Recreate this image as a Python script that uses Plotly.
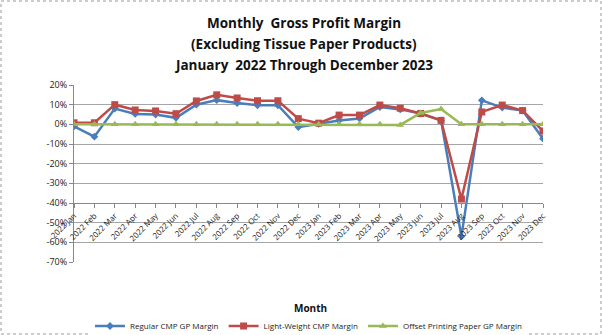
import plotly.graph_objects as go

months = ["2022 Jan", "2022 Feb", "2022 Mar", "2022 Apr", "2022 May", "2022 Jun",
          "2022 Jul", "2022 Aug", "2022 Sep", "2022 Oct", "2022 Nov", "2022 Dec",
          "2023 Jan", "2023 Feb", "2023 Mar", "2023 Apr", "2023 May", "2023 Jun",
          "2023 Jul", "2023 Aug", "2023 Sep", "2023 Oct", "2023 Nov", "2023 Dec"]

regular_cmp = [-1.0, -6.3, 8.0, 5.3, 5.0, 3.3, 10.0, 12.3, 10.8, 9.7, 9.7, -1.4,
               0.3, 2.0, 3.0, 8.8, 7.6, 5.5, 2.0, -57.0, 12.2, 8.5, 7.0, -7.3]
light_weight_cmp = [0.8, 0.8, 10.0, 7.3, 6.8, 5.4, 11.9, 15.0, 13.4, 12.0, 12.0, 2.9,
                    0.6, 4.7, 4.7, 9.8, 8.2, 5.5, 2.0, -38.0, 6.3, 9.8, 7.0, -3.4]
offset_printing = [0, 0, 0, 0, 0, 0, 0, 0, 0, 0, 0, 0,
                   0, 0, 0, 0, -0.3, 5.8, 7.8, 0, 0, 0, 0, 0]

y_ticks = [20, 10, 0, -10, -20, -30, -40, -50, -60, -70]
title_lines = ["Monthly  Gross Profit Margin",
               "(Excluding Tissue Paper Products)",
               "January  2022 Through December 2023"]

W, H = 602, 335
L, R = 74, 59
plot_top, plot_bottom = 85, 262
pw = W - L - R


def py(pix):
    """Pixel row from the top -> paper y fraction."""
    return 1 - pix / H


fig = go.Figure()
fig.add_trace(go.Scatter(
    x=months, y=regular_cmp, name="Regular CMP GP Margin", mode="lines+markers",
    line=dict(color="#4A7EBB", width=2.5),
    marker=dict(symbol="diamond", size=6, color="#4A7EBB")))
fig.add_trace(go.Scatter(
    x=months, y=light_weight_cmp, name="Light-Weight CMP Margin", mode="lines+markers",
    line=dict(color="#BE4B48", width=2.5),
    marker=dict(symbol="square", size=7, color="#BE4B48")))
fig.add_trace(go.Scatter(
    x=months, y=offset_printing, name="Offset Printing Paper GP Margin", mode="lines+markers",
    line=dict(color="#98B954", width=2.5),
    marker=dict(symbol="triangle-up", size=7, color="#98B954")))

ymin, ymax = -70, 20
axis_cross = -40
d0, d1 = py(plot_bottom), py(plot_top)

fig.update_layout(
    width=W, height=H,
    margin=dict(l=L, r=R, t=0, b=0, autoexpand=False),
    paper_bgcolor="white", plot_bgcolor="white",
    font=dict(family="Open Sans, Arial, sans-serif", color="#222"),
    xaxis=dict(
        type="category", categoryorder="array", categoryarray=months,
        range=[0, len(months) - 1], automargin=False,
        anchor="free", position=d0 + (d1 - d0) * (axis_cross - ymin) / (ymax - ymin),
        showline=True, linecolor="#888", linewidth=1,
        ticks="outside", ticklen=4, tickcolor="#888", tickmode="array",
        tickvals=months, ticktext=months,
        tickangle=-45, tickfont=dict(size=8, color="#222"),
        showgrid=False, zeroline=False),
    yaxis=dict(
        domain=[d0, d1], automargin=False,
        range=[ymin, ymax], tickvals=y_ticks,
        ticktext=[f"{v}%" for v in y_ticks],
        showline=True, linecolor="#888", linewidth=1,
        ticks="outside", ticklen=4, tickcolor="#888",
        showgrid=True, gridcolor="#A6A6A6", gridwidth=1,
        zeroline=False, tickfont=dict(size=9, color="#222")),
    legend=dict(
        orientation="h", x=0.5, xanchor="center",
        y=py(326), yanchor="middle",
        font=dict(size=8, color="#222"), itemwidth=30, tracegroupgap=0),
    showlegend=True,
)

for i, line in enumerate(title_lines):
    fig.add_annotation(
        text=f"<b>{line}</b>", xref="paper", yref="paper",
        x=(304 - L) / pw, y=py(23 + 21 * i), yanchor="middle",
        showarrow=False, font=dict(size=13.5, color="#111"))

fig.add_annotation(
    text="<b>Month</b>", xref="paper", yref="paper",
    x=(310 - L) / pw, y=py(308), yanchor="middle",
    showarrow=False, font=dict(size=10, color="#111"))

# dotted frame around the whole chart
fig.add_shape(
    type="rect", xref="paper", yref="paper",
    x0=-(L - 1) / pw, x1=(pw + R - 1) / pw,
    y0=py(H - 1), y1=py(1),
    line=dict(color="#999", width=1, dash="dot"), layer="below")

fig.write_html("out.html")
